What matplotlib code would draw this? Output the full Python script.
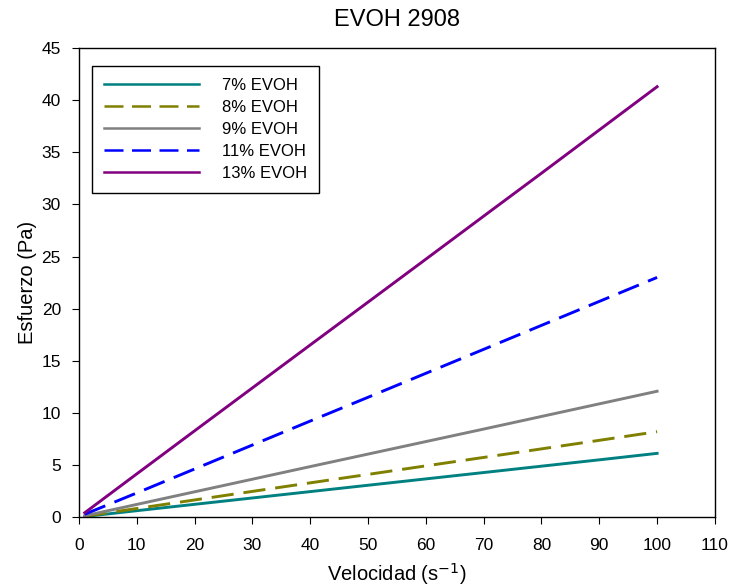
import numpy as np
import matplotlib.pyplot as plt

plt.rcParams['font.family'] = ['Liberation Sans', 'DejaVu Sans']

# Datos
velocidad = [1, 10, 20, 30, 40, 50, 60, 70, 80, 90, 100]
esf_7 = [0.06, 0.62, 1.23, 1.84, 2.45, 3.06, 3.67, 4.28, 4.89, 5.50, 6.12]
esf_8 = [0.09, 0.83, 1.65, 2.47, 3.29, 4.10, 4.92, 5.73, 6.55, 7.37, 8.20]
esf_9 = [0.13, 1.22, 2.43, 3.64, 4.85, 6.05, 7.25, 8.45, 9.66, 10.87, 12.08]
esf_11 = [0.28, 2.32, 4.62, 6.92, 9.22, 11.50, 13.80, 16.10, 18.40, 20.70, 23.00]
esf_13 = [0.42, 4.15, 8.28, 12.40, 16.52, 20.63, 24.75, 28.88, 33.00, 37.15, 41.30]

series = [
    ('7% EVOH', esf_7, '#008080', None),
    ('8% EVOH', esf_8, '#808000', (7.6, 3.4)),
    ('9% EVOH', esf_9, '#808080', None),
    ('11% EVOH', esf_11, '#0000FF', (7.6, 3.4)),
    ('13% EVOH', esf_13, '#800080', None),
]

fig = plt.figure(figsize=(7.31, 5.87), dpi=100)
ax = fig.add_axes([0.108, 0.119, 0.870, 0.799])

for nombre, vals, color, dash in series:
    line, = ax.plot(velocidad, vals, color=color, lw=2.1, label=nombre)
    if dash is not None:
        line.set_dashes(dash)

ax.set_xlim(0, 110)
ax.set_ylim(0, 45)
ax.set_xticks(np.arange(0, 111, 10))
ax.set_yticks(np.arange(0, 46, 5))
ax.tick_params(labelsize=12.5, direction='out', length=5, top=False, right=False)
ax.tick_params(axis='x', pad=10)
ax.tick_params(axis='y', pad=8)
for s in ax.spines.values():
    s.set_linewidth(1.0)

ax.set_title('EVOH 2908', fontsize=17, pad=16)
ax.set_xlabel('Velocidad (s$^{-1}$)', fontsize=14.5, labelpad=6)
ax.set_ylabel('Esfuerzo (Pa)', fontsize=14.5, labelpad=3)

leg = ax.legend(loc='upper left', bbox_to_anchor=(0.0205, 0.961), fontsize=12,
                handlelength=5.7, handletextpad=1.4, labelspacing=0.42,
                fancybox=False, edgecolor='black', framealpha=1,
                borderpad=0.7, borderaxespad=0)
leg.get_frame().set_linewidth(1.0)
for h in leg.get_lines():
    h.set_linewidth(1.8)

plt.savefig('out.png', dpi=100)
plt.close(fig)
